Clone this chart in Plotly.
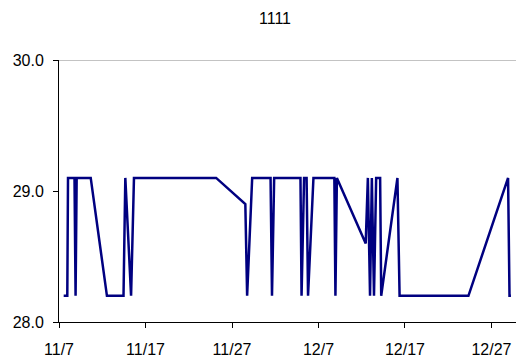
import plotly.graph_objects as go

# Timestamped readings
times = [
    "2011-11-07 13:00", "2011-11-07 23:00", "2011-11-08 01:00", "2011-11-08 19:00",
    "2011-11-08 22:00", "2011-11-09 01:00", "2011-11-10 16:00", "2011-11-12 13:00",
    "2011-11-14 11:00", "2011-11-14 16:00", "2011-11-15 08:00", "2011-11-15 16:00",
    "2011-11-25 04:00", "2011-11-28 13:00", "2011-11-28 18:00", "2011-11-29 08:00",
    "2011-12-01 11:00", "2011-12-01 15:00", "2011-12-01 21:00", "2011-12-04 22:00",
    "2011-12-05 01:00", "2011-12-05 08:00", "2011-12-05 15:00", "2011-12-05 19:00",
    "2011-12-06 10:00", "2011-12-08 20:00", "2011-12-08 23:00", "2011-12-09 03:00",
    "2011-12-12 11:00", "2011-12-12 17:00", "2011-12-12 23:00", "2011-12-13 04:00",
    "2011-12-13 10:00", "2011-12-13 16:00", "2011-12-14 03:00", "2011-12-14 06:00",
    "2011-12-16 03:00", "2011-12-16 09:00", "2011-12-24 08:00", "2011-12-28 22:00",
    "2011-12-29 02:00", "2011-12-29 06:00",
]
values = [
    28.2, 28.2, 29.1, 29.1,
    28.2, 29.1, 29.1, 28.2,
    28.2, 29.1, 28.2, 29.1,
    29.1, 28.9, 28.2, 29.1,
    29.1, 28.2, 29.1, 29.1,
    28.2, 29.1, 29.1, 28.2,
    29.1, 29.1, 28.2, 29.1,
    28.6, 29.1, 28.2, 29.1,
    28.2, 29.1, 29.1, 28.2,
    29.1, 28.2, 28.2, 29.1,
    28.2, 28.2,
]

x_tick_vals = ["2011-11-07", "2011-11-17", "2011-11-27", "2011-12-07", "2011-12-17", "2011-12-27"]
x_tick_text = ["11/7", "11/17", "11/27", "12/7", "12/17", "12/27"]
y_tick_vals = [28.0, 29.0, 30.0]
y_tick_text = ["28.0", "29.0", "30.0"]

font = dict(family="Liberation Sans, Arial, sans-serif", size=16, color="#000000")

fig = go.Figure(
    go.Scatter(
        x=times, y=values, mode="lines",
        line=dict(color="#000080", width=2.5),
        hoverinfo="x+y",
    )
)

fig.update_layout(
    width=516, height=362,
    margin=dict(l=59, r=0, t=60, b=40),
    paper_bgcolor="#ffffff", plot_bgcolor="#ffffff",
    font=font,
    showlegend=False,
    title=dict(text="1111", x=275 / 516, xanchor="center", y=1 - 18 / 362, yanchor="middle",
               font=font),
)

fig.update_xaxes(
    type="date",
    range=["2011-11-07 00:00", "2011-12-29 20:00"],
    tickvals=x_tick_vals, ticktext=x_tick_text,
    showgrid=False, zeroline=False,
    showline=True, linecolor="#000000", linewidth=1,
    ticks="outside", ticklen=5, tickcolor="#000000", tickwidth=1,
    ticklabelstandoff=8,
)
fig.update_yaxes(
    range=[28.0, 30.0],
    tickvals=y_tick_vals, ticktext=y_tick_text,
    showgrid=False, zeroline=False,
    showline=True, linecolor="#000000", linewidth=1,
    ticks="outside", ticklen=5, tickcolor="#000000", tickwidth=1,
    ticklabelstandoff=6,
)

# Top border line of the plot area
fig.add_shape(type="line", xref="paper", yref="y", x0=0, x1=1, y0=30.0, y1=30.0,
              line=dict(color="#888888", width=1), layer="below")

fig.write_html("out.html")
